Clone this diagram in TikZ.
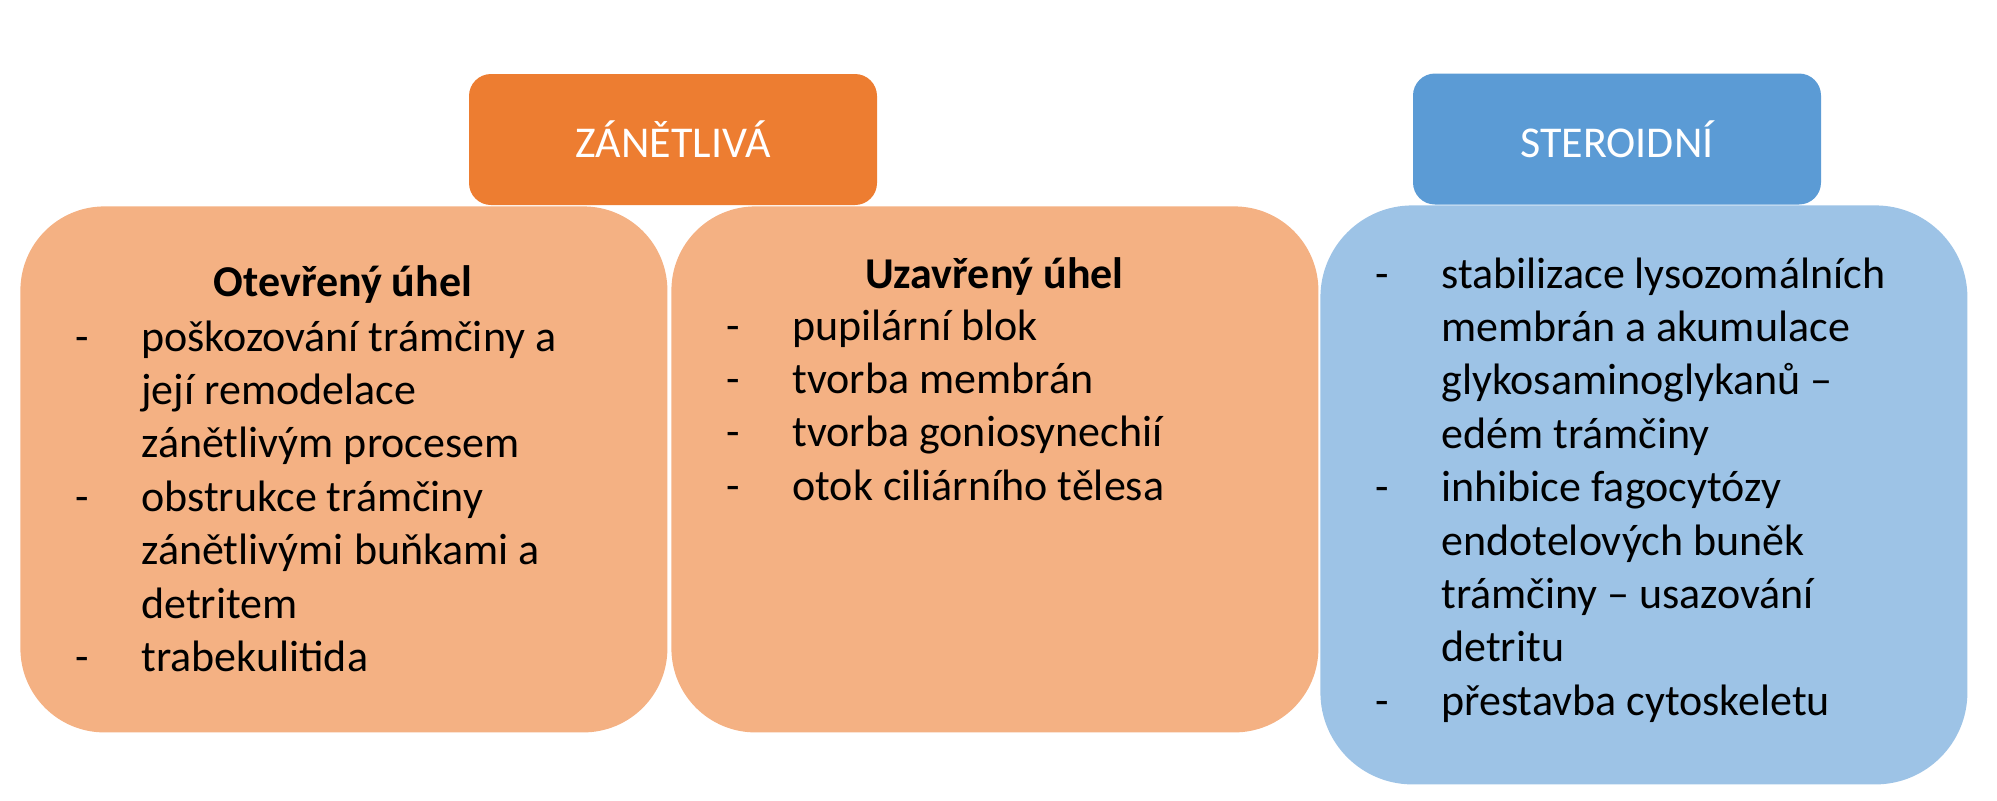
\documentclass[tikz,border=0pt]{standalone}
\usepackage{fontspec}
\setmainfont{Carlito}

\definecolor{zanetdark}{HTML}{ED7D31}
\definecolor{zanetlight}{HTML}{F4B183}
\definecolor{steroiddark}{HTML}{5B9BD5}
\definecolor{steroidlight}{HTML}{9DC3E6}

\newcommand{\boxfont}{\fontsize{22}{26.7}\selectfont}

\tikzset{
    headbox/.style={rounded corners=11pt, minimum width=204pt, minimum height=65.5pt, inner sep=0pt, text=white, font=\boxfont},
    bodybox/.style={anchor=north west, inner sep=0pt, minimum width=323.5pt},
    boxtitle/.style={anchor=base, inner sep=0pt, font=\boxfont\bfseries},
    itemlist/.style={anchor=base west, inner sep=0pt, align=left, font=\boxfont},
}

\begin{document}
\begin{tikzpicture}[x=0.5pt,y=0.5pt,yscale=-1,xscale=1]
        \useasboundingbox (0,0) rectangle (1997,800);
        % body boxes
        \node [bodybox, fill=zanetlight, minimum height=263pt, rounded corners=42pt] (otevreny) at (20,206) {};
        \node [bodybox, fill=zanetlight, minimum height=263pt, rounded corners=42pt] (uzavreny) at (671,206) {};
        \node [bodybox, fill=steroidlight, minimum height=289.5pt, rounded corners=46pt] (steroidbody) at (1320,205) {};
        % headers
        \node [headbox, fill=zanetdark] (zanetliva) at (673,139.5) {ZÁNĚTLIVÁ};
        \node [headbox, fill=steroiddark] (steroidni) at (1617,139) {STEROIDNÍ};
        % texts
        \node [boxtitle] (otevrenytitle) at (343,296) {Otevřený úhel};
        \node [itemlist] (otevrenyitems) at (75,351) {\begin{tabular}[t]{@{}p{33pt}@{}l@{}}
            - & poškozování trámčiny a\\
              & její remodelace\\
              & zánětlivým procesem\\
            - & obstrukce trámčiny\\
              & zánětlivými buňkami a\\
              & detritem\\
            - & trabekulitida
        \end{tabular}};
        \node [boxtitle] (uzavrenytitle) at (994.5,288.5) {Uzavřený úhel};
        \node [itemlist] (uzavrenyitems) at (726,340) {\begin{tabular}[t]{@{}p{33pt}@{}l@{}}
            - & pupilární blok\\
            - & tvorba membrán\\
            - & tvorba goniosynechií\\
            - & otok ciliárního tělesa
        \end{tabular}};
        \node [itemlist] (steroiditems) at (1375,288) {\begin{tabular}[t]{@{}p{33pt}@{}l@{}}
            - & stabilizace lysozomálních\\
              & membrán a akumulace\\
              & glykosaminoglykanů –\\
              & edém trámčiny\\
            - & inhibice fagocytózy\\
              & endotelových buněk\\
              & trámčiny – usazování\\
              & detritu\\
            - & přestavba cytoskeletu
        \end{tabular}};

    \end{tikzpicture}
\end{document}
